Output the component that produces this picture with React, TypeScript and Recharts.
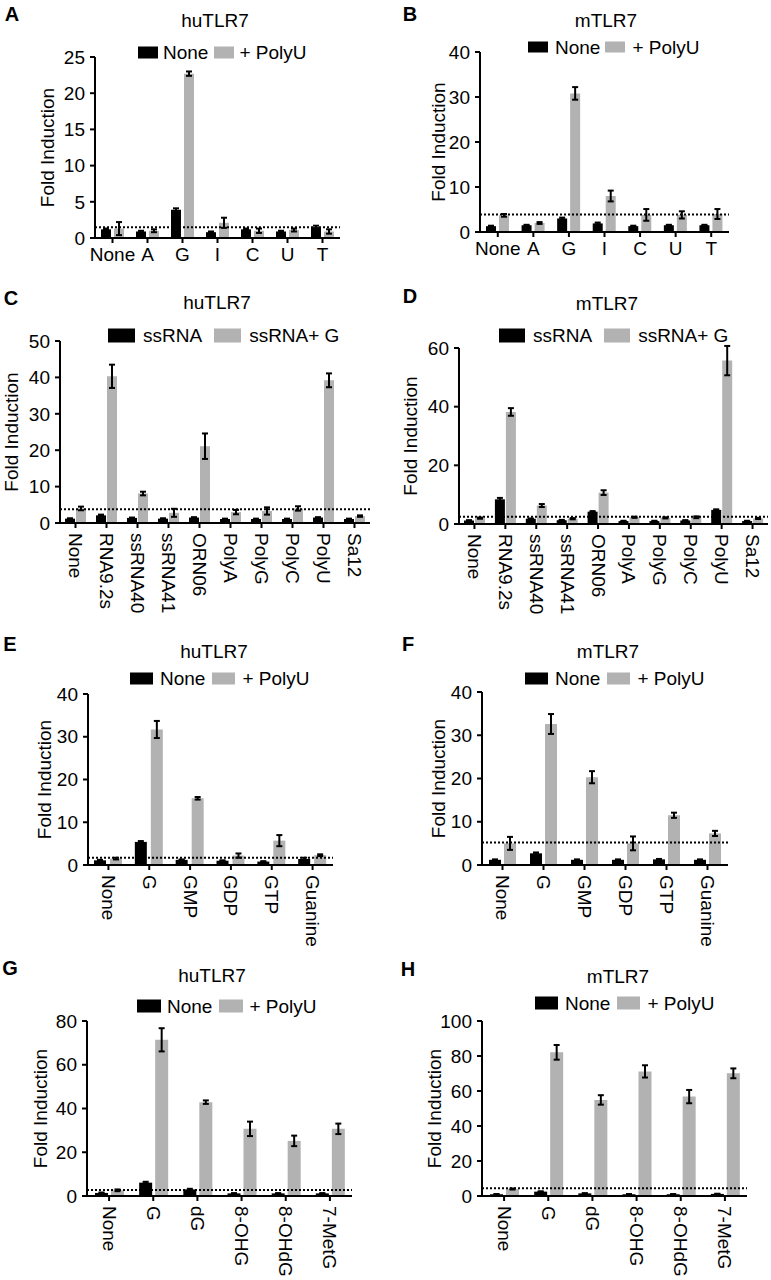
import React from 'react';
import { BarChart, Bar, XAxis, YAxis, ErrorBar, ReferenceLine } from 'recharts';

const FONT = '"Liberation Sans", Arial, Helvetica, sans-serif';
const FS = 19;
const BLACK = '#000000';
const GRAY = '#b2b2b2';

// A - huTLR7, nucleosides
const nucleosides = ['None', 'A', 'G', 'I', 'C', 'U', 'T'];
const aNone = [1.2, 0.9, 3.9, 0.8, 1.2, 0.9, 1.5];
const aNoneErr = [0.1, 0.1, 0.2, 0.1, 0.1, 0.1, 0.2];
const aPolyU = [1.3, 1.0, 22.7, 2.1, 1.0, 1.1, 0.9];
const aPolyUErr = [0.9, 0.2, 0.3, 0.7, 0.3, 0.2, 0.3];
const aCutoff = 1.5;

// B - mTLR7, nucleosides
const bNone = [1.3, 1.5, 3.0, 1.9, 1.3, 1.5, 1.5];
const bNoneErr = [0.1, 0.1, 0.2, 0.2, 0.1, 0.1, 0.1];
const bPolyU = [3.7, 2.0, 30.8, 8.0, 3.8, 3.8, 4.0];
const bPolyUErr = [0.3, 0.2, 1.4, 1.2, 1.3, 0.8, 1.1];
const bCutoff = 3.9;

// C - huTLR7, ssRNAs
const ssrnas = ['None', 'RNA9.2s', 'ssRNA40', 'ssRNA41', 'ORN06', 'PolyA', 'PolyG', 'PolyC', 'PolyU', 'Sa12'];
const cSsRNA = [1.2, 2.1, 1.4, 1.2, 1.5, 1.1, 1.1, 1.1, 1.5, 1.1];
const cSsRNAErr = [0.1, 0.2, 0.1, 0.1, 0.1, 0.1, 0.1, 0.1, 0.1, 0.1];
const cPlusG = [4.0, 40.3, 8.1, 2.8, 21.1, 3.0, 3.3, 4.0, 39.2, 1.9];
const cPlusGErr = [0.5, 3.2, 0.5, 1.1, 3.5, 0.6, 1.0, 0.6, 1.9, 0.2];
const cCutoff = 3.8;

// D - mTLR7, ssRNAs
const dSsRNA = [1.2, 8.4, 1.8, 1.3, 4.2, 1.0, 1.0, 1.2, 4.8, 1.0];
const dSsRNAErr = [0.1, 0.5, 0.1, 0.1, 0.2, 0.1, 0.1, 0.1, 0.2, 0.1];
const dPlusG = [2.0, 38.2, 6.3, 1.8, 10.7, 2.3, 2.1, 2.3, 55.7, 1.9];
const dPlusGErr = [0.2, 1.3, 0.5, 0.2, 0.8, 0.2, 0.2, 0.3, 5.0, 0.2];
const dCutoff = 2.5;

// E - huTLR7, guanosine derivatives
const guanosines = ['None', 'G', 'GMP', 'GDP', 'GTP', 'Guanine'];
const eNone = [1.1, 5.4, 1.2, 1.0, 0.8, 1.4];
const eNoneErr = [0.1, 0.2, 0.1, 0.1, 0.1, 0.3];
const ePolyU = [1.5, 31.7, 15.6, 2.2, 5.7, 2.3];
const ePolyUErr = [0.2, 2.0, 0.3, 0.5, 1.3, 0.2];
const eCutoff = 1.7;

// F - mTLR7, guanosine derivatives
const fNone = [1.2, 2.7, 1.2, 1.2, 1.3, 1.2];
const fNoneErr = [0.1, 0.2, 0.1, 0.1, 0.1, 0.1];
const fPolyU = [5.0, 32.6, 20.3, 5.0, 11.5, 7.3];
const fPolyUErr = [1.5, 2.3, 1.4, 1.6, 0.6, 0.6];
const fCutoff = 5.2;

// G - huTLR7, modified guanosines
const modified = ['None', 'G', 'dG', '8-OHG', '8-OHdG', '7-MetG'];
const gNone = [1.4, 6.1, 3.0, 1.2, 1.2, 1.2];
const gNoneErr = [0.2, 0.4, 0.3, 0.1, 0.1, 0.1];
const gPolyU = [2.6, 71.4, 42.9, 30.7, 25.2, 30.7];
const gPolyUErr = [0.4, 5.3, 0.8, 3.3, 2.4, 2.4];
const gCutoff = 2.7;

// H - mTLR7, modified guanosines
const hNone = [1.0, 2.5, 1.5, 1.0, 1.0, 1.2];
const hNoneErr = [0.1, 0.2, 0.1, 0.1, 0.1, 0.1];
const hPolyU = [4.0, 82.1, 54.9, 71.2, 56.8, 70.1];
const hPolyUErr = [0.3, 4.2, 2.7, 3.5, 3.8, 2.8];
const hCutoff = 4.5;

type PanelSpec = {
  letter: string;
  title: string;
  legend: [string, string];
  cats: string[];
  first: number[];
  firstErr: number[];
  second: number[];
  secondErr: number[];
  cutoff: number;
  yTicks: number[];
  // layout
  col: number;
  plot: { left: number; right: number; top: number; bottom: number };
  rotated: boolean;
  barSize: number;
  barGap: number;
  letterPos: [number, number];
  titlePos: [number, number];
  legendPos: [number, number];
  rect: [number, number];
  gaps: [number, number];
  yLabelX: number;
};

const panels: PanelSpec[] = [
  {
    letter: 'A', title: 'huTLR7', legend: ['None', '+ PolyU'], cats: nucleosides,
    first: aNone, firstErr: aNoneErr, second: aPolyU, secondErr: aPolyUErr, cutoff: aCutoff,
    yTicks: [0, 5, 10, 15, 20, 25],
    col: 0, plot: { left: 95, right: 340, top: 57, bottom: 238 }, rotated: false, barSize: 10, barGap: 3,
    letterPos: [12, 14], titlePos: [215, 20], legendPos: [138, 52], rect: [20, 12], gaps: [5, 6], yLabelX: 47,
  },
  {
    letter: 'B', title: 'mTLR7', legend: ['None', '+ PolyU'], cats: nucleosides,
    first: bNone, firstErr: bNoneErr, second: bPolyU, secondErr: bPolyUErr, cutoff: bCutoff,
    yTicks: [0, 10, 20, 30, 40],
    col: 385, plot: { left: 480, right: 729, top: 52, bottom: 232 }, rotated: false, barSize: 10, barGap: 3,
    letterPos: [410, 14], titlePos: [606, 20], legendPos: [528, 47], rect: [20, 11], gaps: [7, 5], yLabelX: 53,
  },
  {
    letter: 'C', title: 'huTLR7', legend: ['ssRNA', 'ssRNA+ G'], cats: ssrnas,
    first: cSsRNA, firstErr: cSsRNAErr, second: cPlusG, secondErr: cPlusGErr, cutoff: cCutoff,
    yTicks: [0, 10, 20, 30, 40, 50],
    col: 0, plot: { left: 60, right: 370, top: 341, bottom: 523 }, rotated: true, barSize: 10, barGap: 1,
    letterPos: [11, 298], titlePos: [217, 302], legendPos: [108, 335], rect: [27, 14], gaps: [8, 12], yLabelX: 11,
  },
  {
    letter: 'D', title: 'mTLR7', legend: ['ssRNA', 'ssRNA+ G'], cats: ssrnas,
    first: dSsRNA, firstErr: dSsRNAErr, second: dPlusG, secondErr: dPlusGErr, cutoff: dCutoff,
    yTicks: [0, 20, 40, 60],
    col: 385, plot: { left: 459, right: 768, top: 348, bottom: 524 }, rotated: true, barSize: 10, barGap: 1,
    letterPos: [410, 296], titlePos: [607, 303], legendPos: [499, 335], rect: [26, 14], gaps: [8, 12], yLabelX: 25,
  },
  {
    letter: 'E', title: 'huTLR7', legend: ['None', '+ PolyU'], cats: guanosines,
    first: eNone, firstErr: eNoneErr, second: ePolyU, secondErr: ePolyUErr, cutoff: eCutoff,
    yTicks: [0, 10, 20, 30, 40],
    col: 0, plot: { left: 88, right: 333, top: 694, bottom: 865 }, rotated: true, barSize: 12, barGap: 4,
    letterPos: [10, 644], titlePos: [214, 651], legendPos: [130, 678], rect: [23, 12], gaps: [7, 7], yLabelX: 44,
  },
  {
    letter: 'F', title: 'mTLR7', legend: ['None', '+ PolyU'], cats: guanosines,
    first: fNone, firstErr: fNoneErr, second: fPolyU, secondErr: fPolyUErr, cutoff: fCutoff,
    yTicks: [0, 10, 20, 30, 40],
    col: 385, plot: { left: 482, right: 728, top: 692, bottom: 865 }, rotated: true, barSize: 12, barGap: 3,
    letterPos: [408, 644], titlePos: [608, 651], legendPos: [525, 678], rect: [23, 12], gaps: [7, 7], yLabelX: 53,
  },
  {
    letter: 'G', title: 'huTLR7', legend: ['None', '+ PolyU'], cats: modified,
    first: gNone, firstErr: gNoneErr, second: gPolyU, secondErr: gPolyUErr, cutoff: gCutoff,
    yTicks: [0, 20, 40, 60, 80],
    col: 0, plot: { left: 87, right: 352, top: 1021, bottom: 1196 }, rotated: true, barSize: 13, barGap: 3,
    letterPos: [10, 968], titlePos: [212, 975], legendPos: [137, 1006], rect: [24, 13], gaps: [6, 7], yLabelX: 40,
  },
  {
    letter: 'H', title: 'mTLR7', legend: ['None', '+ PolyU'], cats: modified,
    first: hNone, firstErr: hNoneErr, second: hPolyU, secondErr: hPolyUErr, cutoff: hCutoff,
    yTicks: [0, 20, 40, 60, 80, 100],
    col: 385, plot: { left: 482, right: 747, top: 1021, bottom: 1196 }, rotated: true, barSize: 13, barGap: 3,
    letterPos: [408, 969], titlePos: [618, 976], legendPos: [535, 1003], rect: [23, 13], gaps: [7, 7], yLabelX: 49,
  },
];

const textStyle: React.CSSProperties = {
  fontFamily: FONT,
  fontSize: FS,
  color: BLACK,
  whiteSpace: 'nowrap',
  lineHeight: 1,
};

const RotatedTick = (props: any) => {
  const { x, y, payload } = props;
  return (
    <text
      x={x}
      y={y}
      transform={`rotate(90, ${x}, ${y})`}
      textAnchor="start"
      dominantBaseline="central"
      fontSize={FS}
      fontFamily={FONT}
      fill={BLACK}
    >
      {payload.value}
    </text>
  );
};

function Panel({ p }: { p: PanelSpec }) {
  const rows = p.cats.map((name, i) => ({
    name,
    first: p.first[i],
    firstErr: p.firstErr[i],
    second: p.second[i],
    secondErr: p.secondErr[i],
  }));
  const chartTop = p.plot.top - 12;
  const axisH = p.rotated ? 110 : 32;
  const width = p.plot.right - p.col + 3;
  const height = p.plot.bottom - chartTop + axisH;
  const yMax = p.yTicks[p.yTicks.length - 1];

  return (
    <>
      <div
        style={{
          ...textStyle, position: 'absolute', left: p.letterPos[0], top: p.letterPos[1],
          transform: 'translate(-50%, -50%)', fontWeight: 'bold', fontSize: 20,
        }}
      >
        {p.letter}
      </div>
      <div
        style={{
          ...textStyle, position: 'absolute', left: p.titlePos[0], top: p.titlePos[1],
          transform: 'translate(-50%, -50%)',
        }}
      >
        {p.title}
      </div>
      <div
        style={{
          ...textStyle, position: 'absolute', left: p.legendPos[0], top: p.legendPos[1],
          transform: 'translateY(-50%)', display: 'flex', alignItems: 'center',
        }}
      >
        <span style={{ width: p.rect[0], height: p.rect[1], background: BLACK, marginRight: p.gaps[0] }} />
        <span style={{ marginRight: p.gaps[1] }}>{p.legend[0]}</span>
        <span style={{ width: p.rect[0], height: p.rect[1], background: GRAY, marginRight: p.gaps[0] }} />
        <span>{p.legend[1]}</span>
      </div>
      <div style={{ position: 'absolute', left: p.col, top: chartTop }}>
        <BarChart
          width={width}
          height={height}
          data={rows}
          margin={{ top: 12, right: 3, left: 0, bottom: 0 }}
          barGap={p.barGap}
        >
          <XAxis
            dataKey="name"
            height={axisH}
            interval={0}
            axisLine={{ stroke: BLACK, strokeWidth: 2 }}
            tickLine={{ stroke: BLACK, strokeWidth: 2 }}
            tickSize={5}
            tickMargin={p.rotated ? 5 : 5}
            tick={p.rotated ? <RotatedTick /> : { fill: BLACK, fontSize: FS, fontFamily: FONT }}
          />
          <YAxis
            width={p.plot.left - p.col}
            domain={[0, yMax]}
            ticks={p.yTicks}
            allowDataOverflow
            interval={0}
            axisLine={{ stroke: BLACK, strokeWidth: 2 }}
            tickLine={{ stroke: BLACK, strokeWidth: 2 }}
            tickSize={5}
            tickMargin={5}
            tick={{ fill: BLACK, fontSize: FS, fontFamily: FONT }}
            label={{
              value: 'Fold Induction',
              angle: -90,
              position: 'insideLeft',
              offset: p.yLabelX,
              fill: BLACK,
              fontSize: FS,
              fontFamily: FONT,
              style: { textAnchor: 'middle' },
            }}
          />
          <Bar dataKey="first" fill={BLACK} barSize={p.barSize} isAnimationActive={false}>
            <ErrorBar dataKey="firstErr" width={3} strokeWidth={2} stroke={BLACK} direction="y" />
          </Bar>
          <Bar dataKey="second" fill={GRAY} barSize={p.barSize} isAnimationActive={false}>
            <ErrorBar dataKey="secondErr" width={3} strokeWidth={2} stroke={BLACK} direction="y" />
          </Bar>
          <ReferenceLine y={p.cutoff} stroke={BLACK} strokeWidth={2} strokeDasharray="2 2" ifOverflow="extendDomain" />
        </BarChart>
      </div>
    </>
  );
}

export default function App() {
  return (
    <div
      style={{
        position: 'absolute', left: 0, top: 0, width: 771, height: 1280,
        background: '#ffffff', overflow: 'hidden',
      }}
    >
      {panels.map((p) => (
        <Panel key={p.letter} p={p} />
      ))}
    </div>
  );
}
